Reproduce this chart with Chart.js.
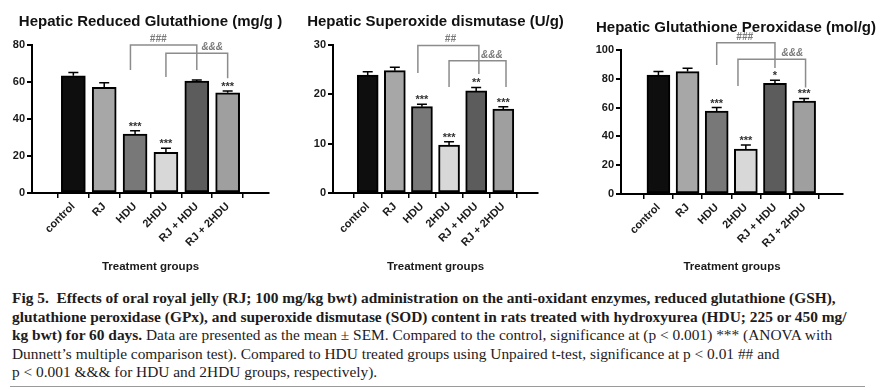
<!DOCTYPE html>
<html>
<head>
<meta charset="utf-8">
<script src="https://cdn.jsdelivr.net/npm/chart.js@4/dist/chart.umd.min.js"></script>
<style>
  html, body { margin: 0; padding: 0; background: #fff; }
  body { width: 883px; height: 390px; position: relative; overflow: hidden; }
  .panel { position: absolute; top: 0; height: 280px; }
  #caption { position: absolute; left: 12px; top: 289px; font-family: "Liberation Serif", serif;
    font-size: 15.4px; line-height: 18.5px; color: #1e1b1c; white-space: nowrap; }
  #caption b { font-weight: bold; }
  #rule { position: absolute; left: 10px; top: 386px; width: 855px; height: 0; border-top: 1.5px solid #9a9a9a; }
</style>
</head>
<body>
<div class="panel" style="left:0px;width:290px"><canvas id="gsh-chart"></canvas></div>
<div class="panel" style="left:295px;width:285px"><canvas id="sod-chart"></canvas></div>
<div class="panel" style="left:585px;width:298px"><canvas id="gpx-chart"></canvas></div>
<div id="caption">
  <div><b>Fig 5.&nbsp; Effects of oral royal jelly (RJ; 100 mg/kg bwt) administration on the anti-oxidant enzymes, reduced glutathione (GSH),</b></div>
  <div><b>glutathione peroxidase (GPx), and superoxide dismutase (SOD) content in rats treated with hydroxyurea (HDU; 225 or 450 mg/</b></div>
  <div><b>kg bwt) for 60 days.</b> Data are presented as the mean ± SEM. Compared to the control, significance at (p &lt; 0.001) *** (ANOVA with</div>
  <div>Dunnett’s multiple comparison test). Compared to HDU treated groups using Unpaired t-test, significance at p &lt; 0.01 ## and</div>
  <div>p &lt; 0.001 &amp;&amp;&amp; for HDU and 2HDU groups, respectively).</div>
</div>
<div id="rule"></div>
<script>
const categories = ['control', 'RJ', 'HDU', '2HDU', 'RJ + HDU', 'RJ + 2HDU'];
const barColors = ['#0e0e0e', '#a7a7a7', '#787878', '#d8d8d8', '#5c5c5c', '#9f9f9f'];

const gshValues = [63.4, 57.1, 31.9, 22.0, 60.5, 54.2];
const gshErrors = [1.8, 2.5, 1.8, 2.2, 0.6, 0.9];
const gshStars = ['', '', '***', '***', '', '***'];
const gshTicks = [0, 20, 40, 60, 80];
const gshBrackets = [
    { from: 1.85, to: 4, top: 80, leftEnd: 66.5, rightEnd: 66.5, label: '###', labelAt: 2.75 },
    { from: 3, to: 5, top: 75.5, leftEnd: 62.7, rightEnd: 62, label: '&&&', labelAt: 4.5 }
];

const sodValues = [23.9, 24.8, 17.5, 9.7, 20.7, 17.0];
const sodErrors = [0.7, 0.7, 0.5, 0.7, 0.7, 0.5];
const sodStars = ['', '', '***', '***', '**', '***'];
const sodTicks = [0, 10, 20, 30];
const sodBrackets = [
    { from: 1.85, to: 4.1, top: 29.9, leftEnd: 24.3, rightEnd: 24.1, label: '##', labelAt: 3.05 },
    { from: 3, to: 5.1, top: 26.8, leftEnd: 21.5, rightEnd: 21.5, label: '&&&', labelAt: 4.58 }
];

const gpxValues = [82.6, 85.0, 57.6, 31.2, 76.9, 64.6];
const gpxErrors = [2.4, 2.3, 2.4, 2.8, 2.1, 1.8];
const gpxStars = ['', '', '***', '***', '*', '***'];
const gpxTicks = [0, 20, 40, 60, 80, 100];
const gpxBrackets = [
    { from: 2, to: 4, top: 105, leftEnd: 89.6, rightEnd: 87.5, label: '###', labelAt: 2.96 },
    { from: 2.73, to: 5.05, top: 93.5, leftEnd: 75, rightEnd: 74, label: '&&&', labelAt: 4.6 }
];

const SANS = '"Liberation Sans", Arial, sans-serif';

// draws title, error bars, stars and comparison brackets on top of the bars
const extrasPlugin = {
    id: 'extras',
    afterDatasetsDraw(chart) {
        const o = chart.options.plugins.extras;
        const { ctx, chartArea } = chart;
        const x = chart.scales.x, y = chart.scales.y;
        const bars = chart.getDatasetMeta(0).data;
        ctx.save();

        ctx.fillStyle = '#111';
        ctx.font = 'bold 15px ' + SANS;
        ctx.textAlign = 'center';
        ctx.textBaseline = 'middle';
        ctx.fillText(o.title, (chartArea.left + chartArea.right) / 2 + o.titleDx, o.titleY);

        ctx.strokeStyle = '#000';
        ctx.lineWidth = 1.5;
        bars.forEach((bar, i) => {
            const top = y.getPixelForValue(o.values[i] + o.errors[i]);
            ctx.beginPath();
            ctx.moveTo(bar.x, bar.y);
            ctx.lineTo(bar.x, top);
            ctx.moveTo(bar.x - 5, top);
            ctx.lineTo(bar.x + 5, top);
            ctx.stroke();
            if (o.stars[i]) {
                ctx.font = 'bold 11px ' + SANS;
                ctx.fillStyle = '#333';
                ctx.textBaseline = 'middle';
                ctx.fillText(o.stars[i], bar.x, top - 4);
            }
        });

        ctx.strokeStyle = '#8c8c8c';
        ctx.fillStyle = '#7a7a7a';
        ctx.lineWidth = 1.5;
        o.brackets.forEach(b => {
            const x1 = x.getPixelForValue(b.from), x2 = x.getPixelForValue(b.to);
            const yt = y.getPixelForValue(b.top);
            ctx.beginPath();
            ctx.moveTo(x1, y.getPixelForValue(b.leftEnd));
            ctx.lineTo(x1, yt);
            ctx.lineTo(x2, yt);
            ctx.lineTo(x2, y.getPixelForValue(b.rightEnd));
            ctx.stroke();
            ctx.font = 'italic bold 10px ' + SANS;
            ctx.textBaseline = 'bottom';
            ctx.fillText(b.label, x.getPixelForValue(b.labelAt), yt - 1);
        });
        ctx.restore();
    }
};

function makePanel(id, p) {
    const ctx = document.getElementById(id).getContext('2d');
    return new Chart(ctx, {
        type: 'bar',
        data: {
            datasets: [{
                data: p.values.map((v, i) => ({ x: i, y: v })),
                backgroundColor: barColors,
                borderColor: '#000',
                borderWidth: 2,
                borderSkipped: false,
                barThickness: p.barWidth
            }]
        },
        options: {
            responsive: true,
            maintainAspectRatio: false,
            animation: false,
            layout: { padding: { top: p.top, right: p.padRight, left: 0, bottom: 0 } },
            plugins: {
                legend: { display: false },
                tooltip: { enabled: false },
                extras: {
                    title: p.title, titleY: p.titleY, titleDx: p.titleDx || 0,
                    values: p.values, errors: p.errors, stars: p.stars, brackets: p.brackets
                }
            },
            scales: {
                x: {
                    type: 'linear',
                    min: p.xMin, max: p.xMax,
                    afterBuildTicks: s => { s.ticks = categories.map((c, i) => ({ value: i })); },
                    afterFit: s => { s.height = 280 - p.bottom; },
                    ticks: {
                        autoSkip: false, minRotation: 45, maxRotation: 45,
                        color: '#1a1a1a', padding: 2,
                        font: { family: SANS, size: 11, weight: 'bold' },
                        callback: v => categories[v]
                    },
                    grid: { drawOnChartArea: false, tickLength: 5, color: '#000', lineWidth: 1.5 },
                    border: { color: '#000', width: 2 },
                    title: {
                        display: true, text: 'Treatment groups', color: '#1a1a1a',
                        font: { family: SANS, size: 11.5, weight: 'bold' },
                        padding: { top: 0, bottom: 6 }
                    }
                },
                y: {
                    min: 0, max: p.ticks[p.ticks.length - 1],
                    afterBuildTicks: s => { s.ticks = p.ticks.map(v => ({ value: v })); },
                    afterFit: s => { s.width = p.axisWidth; },
                    ticks: { color: '#1a1a1a', padding: 2, font: { family: SANS, size: 11, weight: 'bold' } },
                    grid: { drawOnChartArea: false, tickLength: 5, color: '#000', lineWidth: 2 },
                    border: { color: '#000', width: 2 }
                }
            }
        },
        plugins: [extrasPlugin]
    });
}

makePanel('gsh-chart', {
    title: 'Hepatic Reduced Glutathione (mg/g )', titleY: 22,
    values: gshValues, errors: gshErrors, stars: gshStars, ticks: gshTicks, brackets: gshBrackets,
    top: 45, bottom: 193, axisWidth: 32, padRight: 21, xMin: -0.7, xMax: 5.7, barWidth: 24
});
makePanel('sod-chart', {
    title: 'Hepatic Superoxide dismutase (U/g)', titleY: 22,
    values: sodValues, errors: sodErrors, stars: sodStars, ticks: sodTicks, brackets: sodBrackets,
    top: 45, bottom: 193, axisWidth: 38, padRight: 42, xMin: -0.65, xMax: 5.65, barWidth: 21
});
makePanel('gpx-chart', {
    title: 'Hepatic Glutathione Peroxidase (mol/g)', titleY: 28, titleDx: 4,
    values: gpxValues, errors: gpxErrors, stars: gpxStars, ticks: gpxTicks, brackets: gpxBrackets,
    top: 50, bottom: 194, axisWidth: 36, padRight: 40, xMin: -0.65, xMax: 5.7, barWidth: 23
});
</script>
</body>
</html>
